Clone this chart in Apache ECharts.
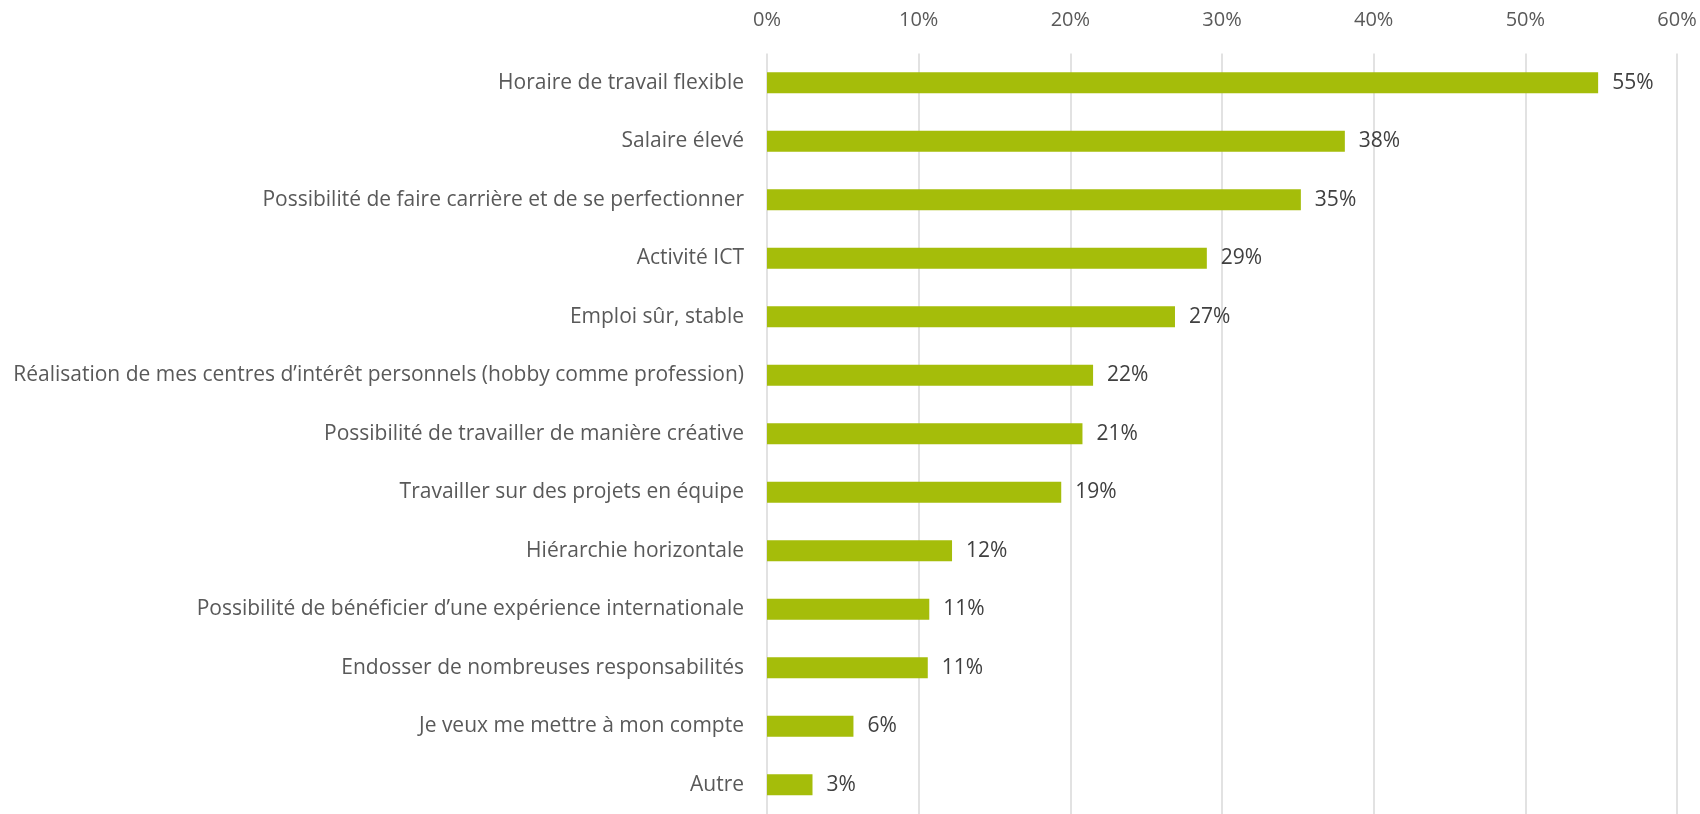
<!DOCTYPE html>
<html>
<head>
<meta charset="utf-8">
<script src="https://cdn.jsdelivr.net/npm/echarts@6/dist/echarts.min.js"></script>
<style>
  html, body { margin: 0; padding: 0; background: #fff; }
  #chart { width: 1700px; height: 814px; }
</style>
</head>
<body>
<div id="chart"></div>
<script>
// 카테고리 (위에서 아래로)
const categories = [
    'Horaire de travail flexible',
    'Salaire élevé',
    'Possibilité de faire carrière et de se perfectionner',
    'Activité ICT',
    'Emploi sûr, stable',
    'Réalisation de mes centres d’intérêt personnels (hobby comme profession)',
    'Possibilité de travailler de manière créative',
    'Travailler sur des projets en équipe',
    'Hiérarchie horizontale',
    'Possibilité de bénéficier d’une expérience internationale',
    'Endosser de nombreuses responsabilités',
    'Je veux me mettre à mon compte',
    'Autre'
];
// 값 (%)
const values = [54.8, 38.1, 35.2, 29, 26.9, 21.5, 20.8, 19.4, 12.2, 10.7, 10.6, 5.7, 3];
const xTicks = [0, 10, 20, 30, 40, 50, 60];

let chart = echarts.init(document.getElementById('chart'), null, {renderer: 'canvas'});
let font = 'Open Sans';
let option = {
    animation: false,
    grid: {
        left: 767,
        top: 53.5,
        width: 910,
        height: 766
    },
    xAxis: {
        type: 'value',
        position: 'top',
        min: xTicks[0],
        max: xTicks[xTicks.length - 1],
        interval: 10,
        axisLine: {show: false},
        axisTick: {show: false},
        axisLabel: {
            margin: 23,
            fontFamily: font,
            fontSize: 20,
            color: '#595959',
            formatter: '{value}%'
        },
        splitLine: {lineStyle: {color: '#d9d9d9', width: 1.5}}
    },
    yAxis: {
        type: 'category',
        inverse: true,
        data: categories,
        axisLine: {show: false},
        axisTick: {show: false},
        axisLabel: {
            margin: 23,
            fontFamily: font,
            fontSize: 21,
            color: '#595959'
        }
    },
    series: [{
        type: 'bar',
        data: values,
        barWidth: 21,
        itemStyle: {color: '#a5bd0a'},
        label: {
            show: true,
            position: 'right',
            distance: 14,
            fontFamily: font,
            fontSize: 21,
            color: '#404040',
            formatter: p => Math.round(p.value) + '%'
        }
    }]
};
chart.setOption(option);
</script>
</body>
</html>
